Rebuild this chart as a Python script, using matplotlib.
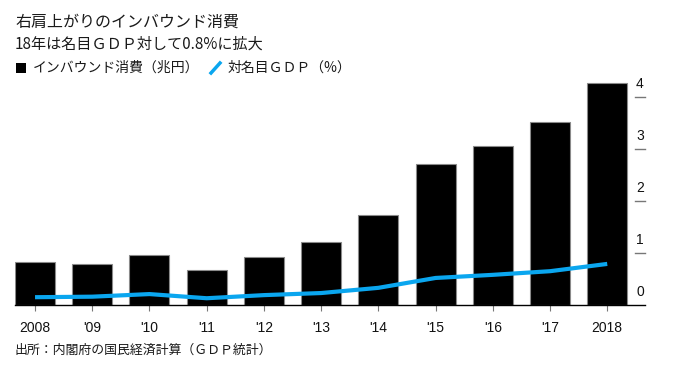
import matplotlib
matplotlib.use("Agg")
import matplotlib.pyplot as plt
from matplotlib.patches import Rectangle
from matplotlib.lines import Line2D
import matplotlib.transforms as mtransforms

plt.rcParams['font.family'] = ['Noto Sans CJK JP', 'DejaVu Sans']

years = ['2008', "'09", "'10", "'11", "'12", "'13", "'14", "'15", "'16", "'17", '2018']
inbound = [0.83, 0.79, 0.96, 0.67, 0.92, 1.21, 1.73, 2.71, 3.06, 3.52, 4.27]
gdp_share = [0.15, 0.16, 0.21, 0.13, 0.19, 0.23, 0.33, 0.52, 0.58, 0.65, 0.79]
y_ticks = [0, 1, 2, 3, 4]
y_ticklabels = ['0', '1', '2', '3', '4']

title = '右肩上がりのインバウンド消費'
subtitle = '18年は名目ＧＤＰ対して0.8%に拡大'
legend_bar = 'インバウンド消費（兆円）'
legend_line = '対名目ＧＤＰ（%）'
source = '出所：内閣府の国民経済計算（ＧＤＰ統計）'

W, H = 677, 372
fig = plt.figure(figsize=(W / 100, H / 100), dpi=100)

# axes: left 15px, right 645px, zero baseline at y=305px, 52px per unit
ymax = 4.4
left_px, right_px, base_px, unit_px = 15, 645, 305, 52
ax = fig.add_axes([left_px / W, (H - base_px) / H,
                   (right_px - left_px) / W, ymax * unit_px / H])

x = list(range(len(years)))
ax.bar(x, inbound, width=0.7, color='black', edgecolor='#8a8a8a', linewidth=0.8, zorder=2)
ax.plot(x, gdp_share, color='#0aa6ef', linewidth=3.0, solid_capstyle='butt',
        solid_joinstyle='round', zorder=3)

ax.set_xlim(-0.35, 10.66)
ax.set_ylim(0, ymax)

for s in ['top', 'right', 'left']:
    ax.spines[s].set_visible(False)
ax.spines['bottom'].set_color('black')
ax.spines['bottom'].set_linewidth(1.0)
ax.spines['bottom'].set_zorder(4)

ax.set_xticks(x)
ax.set_xticklabels(years, family=['Liberation Sans', 'DejaVu Sans'], fontsize=10, color='#111111')
ax.tick_params(axis='x', direction='out', length=4.5, width=0.8, color='#777777', pad=7)
ax.set_yticks([])

# right-side tick marks and labels
trans = mtransforms.blended_transform_factory(ax.transAxes, ax.transData)
tick_x0 = 1 - 10 / (right_px - left_px)
for v, lab in zip(y_ticks, y_ticklabels):
    if v > 0:
        ax.add_line(Line2D([tick_x0, 1.0], [v, v], transform=trans,
                           color='#777777', linewidth=1.0, zorder=5, clip_on=False))
    ax.annotate(lab, xy=(1 - 5 / (right_px - left_px), v), xycoords=trans,
                xytext=(0, 9), textcoords='offset points', ha='center', va='center',
                fontsize=10, family=['Liberation Sans', 'DejaVu Sans'], color='#111111')

# titles
fig.text(15 / W, 1 - 22 / H, title, fontsize=11.5, color='#1a1a1a', va='center', ha='left')
fig.text(15 / W, 1 - 44 / H, subtitle, fontsize=10.9, color='#1a1a1a', va='center', ha='left')

# legend
ly = 1 - 68 / H
fig.patches.append(Rectangle((16 / W, ly - 5 / H), 10 / W, 10 / H, transform=fig.transFigure,
                             facecolor='black', edgecolor='none'))
fig.text(33 / W, ly, legend_bar, fontsize=10, color='#1a1a1a', va='center', ha='left')
fig.add_artist(Line2D([211 / W, 220 / W], [ly - 5 / H, ly + 5 / H], transform=fig.transFigure,
                      color='#0aa6ef', linewidth=2.5))
fig.text(228 / W, ly, legend_line, fontsize=10, color='#1a1a1a', va='center', ha='left')

# source
fig.text(15 / W, 1 - 350 / H, source, fontsize=9.3, color='#1a1a1a', va='center', ha='left')

fig.savefig('out.png', dpi=100)
